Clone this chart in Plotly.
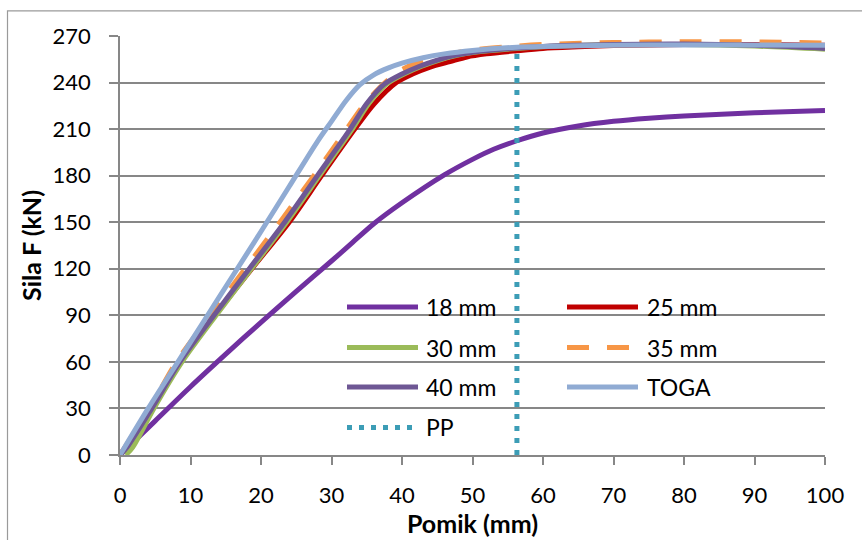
import plotly.graph_objects as go

# ---------------- data ----------------
x_18 = [0, 5, 10, 15, 20, 25, 30, 33, 36, 40, 46, 50, 53, 56.3, 60, 65, 70, 75, 80, 90, 100]
f_18 = [0, 22, 44, 65, 85.5, 105.5, 125, 137, 149, 162.5, 180.5, 190.5, 197, 202.5, 207.5, 212, 215, 217, 218.5, 220.5, 222]

x_25 = [0, 4.5, 8.5, 13.5, 18.7, 24, 28.6, 33.3, 36, 39.2, 41.5, 44, 46.8, 49.2, 52, 56.3, 60, 65, 70, 80, 90, 100]
f_25 = [0, 30, 60, 90, 120, 150, 180, 210, 226, 240, 245.5, 250, 253.5, 256.5, 258.5, 260.5, 262, 263, 263.8, 264.5, 264.5, 264]

x_30 = [0.8, 1.8, 4.8, 8.8, 13.8, 18.8, 23.8, 28.3, 32.8, 35.3, 37.8, 40.3, 42.8, 45.3, 47.8, 50.3, 56.3, 60, 70, 80, 90, 100]
f_30 = [0, 5, 30, 60, 91, 121, 151, 180, 209, 226.5, 239, 245.5, 250.5, 254.5, 257.5, 259.5, 262, 263, 264.3, 264.5, 263.5, 261.5]

x_35 = [0, 4.2, 8, 13, 18, 23, 27.5, 32, 34.5, 37, 39.5, 42, 44.5, 47, 50, 56.3, 60, 70, 80, 90, 100]
f_35 = [0, 30, 60, 91, 121.5, 152, 180, 209, 225, 237.5, 247, 252.5, 255.5, 258.5, 261, 263.5, 264.5, 265.8, 266.3, 266.2, 265.5]

x_40 = [0, 1, 4.5, 8.5, 13.5, 18.5, 23.5, 28, 32.5, 35, 37.5, 40, 42.5, 45, 47.5, 50, 56.3, 60, 70, 80, 90, 100]
f_40 = [0, 5, 30, 60, 91, 121, 151, 180, 209, 226.5, 239, 245.5, 250.5, 254.5, 257.5, 259.5, 262.3, 263.3, 264.5, 264.8, 264, 262]

x_toga = [0, 4, 8, 12, 16, 20, 24, 28, 30, 32, 34, 36, 38, 40, 43, 46, 50, 56.3, 60, 70, 80, 90, 100]
f_toga = [0, 30, 58.5, 87, 115.5, 144, 173, 202, 215, 228, 238.5, 245, 249.3, 252.5, 256, 258.5, 260.7, 262.8, 263.3, 264, 264.2, 264.2, 264]

x_pp = [56.3, 56.3]
f_pp = [0, 262.8]

series_names = ["18 mm", "25 mm", "30 mm", "35 mm", "40 mm", "TOGA", "PP"]
x_ticks = [0, 10, 20, 30, 40, 50, 60, 70, 80, 90, 100]
y_ticks = [0, 30, 60, 90, 120, 150, 180, 210, 240, 270]

# ---------------- styles ----------------
colors = ["#7030A0", "#C00000", "#9BBB59", "#F79646", "#6E5794", "#90ABD3", "#3C9DB6"]
dashes = ["solid", "solid", "solid", "22px,18px", "solid", "solid", "5px,7px"]
LW = 5

W, H = 862, 540
ML, MT = 120, 36
PW, PH = 705, 425
MR, MB = W - ML - PW, H - MT - PH
FONT = "Lato"
GRID = "#878787"

xs_all = [x_18, x_25, x_30, x_35, x_40, x_toga, x_pp]
ys_all = [f_18, f_25, f_30, f_35, f_40, f_toga, f_pp]

fig = go.Figure()
for name, xs, ys, c, d in zip(series_names, xs_all, ys_all, colors, dashes):
    spline = name != "PP"
    fig.add_trace(go.Scatter(
        x=xs, y=ys, mode="lines", name=name, showlegend=False,
        line=dict(color=c, width=LW, dash=d,
                  shape="spline" if spline else "linear", smoothing=0.8 if spline else None),
        hoverinfo="x+y+name",
    ))

# ---------------- custom legend (two columns, Excel style) ----------------
def px_x(p):
    # window pixel -> paper fraction
    return (p - ML) / PW

def px_y(p):
    return (MT + PH - p) / PH

col_line = [(347, 418), (567, 638)]
col_text = [424, 645]
row_y = [311, 352, 392, 433]
shapes = []
annotations = []
for i, (name, c, d) in enumerate(zip(series_names, colors, dashes)):
    col, row = i % 2, i // 2
    x0, x1 = col_line[col]
    if name == "PP":
        x0, x1 = 347, 413
    shapes.append(dict(type="line", xref="paper", yref="paper",
                       x0=px_x(x0), x1=px_x(x1), y0=px_y(row_y[row]), y1=px_y(row_y[row]),
                       line=dict(color=c, width=LW, dash=d)))
    annotations.append(dict(xref="paper", yref="paper", x=px_x(col_text[col]), y=px_y(row_y[row]),
                            text=name, showarrow=False, xanchor="left", yanchor="middle",
                            font=dict(family=FONT, size=23, color="#000000")))

# chart-area frame
shapes.append(dict(type="rect", xref="paper", yref="paper", layer="below",
                   x0=px_x(7.5), x1=px_x(900), y0=px_y(570), y1=px_y(10.5),
                   line=dict(color="#9A9A9A", width=1.2), fillcolor="rgba(0,0,0,0)"))

fig.update_layout(
    width=W, height=H,
    margin=dict(l=ML, r=MR, t=MT, b=MB, pad=0),
    paper_bgcolor="white", plot_bgcolor="white",
    font=dict(family=FONT, size=22, color="#000000"),
    shapes=shapes, annotations=annotations,
    showlegend=False,
)
fig.update_xaxes(
    range=[0, 100], tickvals=x_ticks, ticktext=[str(v) for v in x_ticks],
    showgrid=False, zeroline=False,
    showline=True, linecolor=GRID, linewidth=1.5,
    ticks="outside", ticklen=8, tickcolor=GRID, tickwidth=1.5,
    ticklabelstandoff=12,
    tickfont=dict(family=FONT, size=22, color="#000000"),
    title=dict(text="<b>Pomik (mm)</b>", font=dict(family=FONT, size=25, color="#000000"), standoff=2),
)
fig.update_yaxes(
    range=[0, 270], tickvals=y_ticks, ticktext=[str(v) for v in y_ticks],
    showgrid=True, gridcolor=GRID, gridwidth=1.5, zeroline=False,
    showline=True, linecolor=GRID, linewidth=1.5,
    ticks="outside", ticklen=9, tickcolor=GRID, tickwidth=1.5,
    ticklabelstandoff=14,
    tickfont=dict(family=FONT, size=22, color="#000000"),
    title=dict(text="<b>Sila F (kN)</b>", font=dict(family=FONT, size=25, color="#000000"), standoff=4),
)

# remove the default page margin so the 862x540 figure fills the window exactly
fig.write_html("out.html",
               config={"displayModeBar": False},
               post_script="document.body.style.margin='0';document.body.style.overflow='hidden';")
